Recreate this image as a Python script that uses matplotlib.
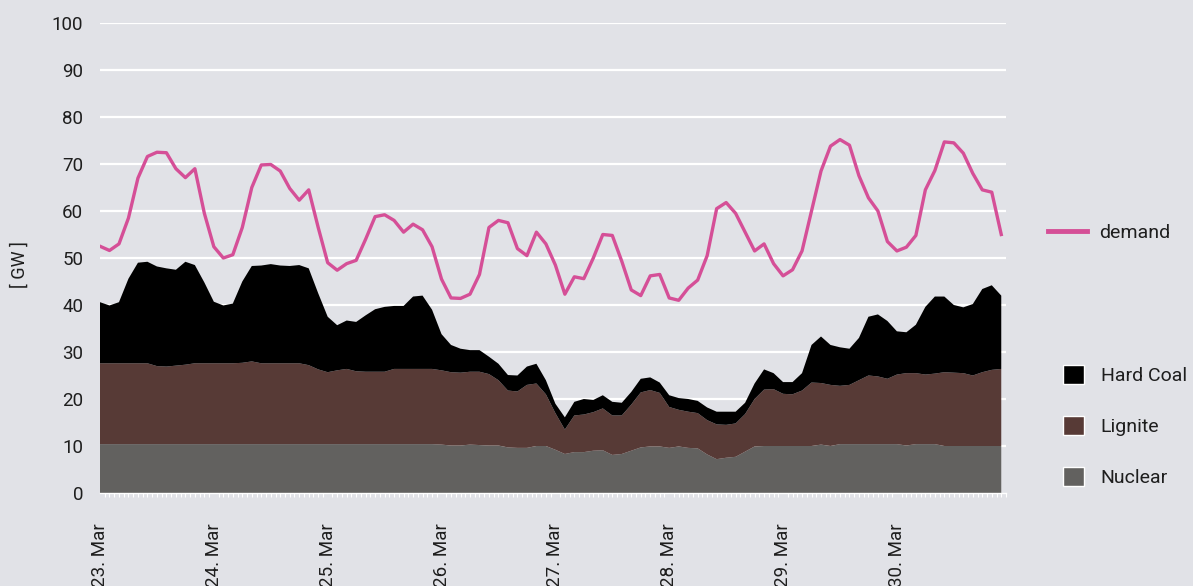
import matplotlib
matplotlib.use("Agg")
import matplotlib.pyplot as plt
from matplotlib.patches import Patch
from matplotlib.lines import Line2D
import numpy as np

# hours since 23 Mar 00:00, 2-hourly readings
hours = np.arange(0, 192, 2)

day_labels = ["23. Mar", "24. Mar", "25. Mar", "26. Mar",
              "27. Mar", "28. Mar", "29. Mar", "30. Mar"]

demand = [52.5, 51.6, 53.0, 58.5, 67.0, 71.6, 72.5, 72.4, 69.0, 67.1, 69.0, 59.5,
          52.4, 50.0, 50.7, 56.5, 65.0, 69.8, 69.9, 68.5, 64.8, 62.3, 64.5, 56.5,
          49.0, 47.4, 48.8, 49.5, 54.0, 58.8, 59.2, 58.0, 55.5, 57.2, 56.0, 52.4,
          45.5, 41.5, 41.4, 42.3, 46.5, 56.5, 58.0, 57.5, 52.0, 50.5, 55.5, 53.0,
          48.5, 42.3, 46.0, 45.6, 50.0, 55.0, 54.8, 49.3, 43.2, 42.0, 46.2, 46.5,
          41.5, 41.0, 43.6, 45.3, 50.5, 60.5, 61.8, 59.5, 55.5, 51.5, 53.0, 48.8,
          46.2, 47.5, 51.5, 60.0, 68.5, 73.8, 75.2, 74.0, 67.5, 62.8, 60.0, 53.5,
          51.5, 52.3, 54.8, 64.5, 68.6, 74.7, 74.5, 72.3, 68.0, 64.5, 64.0, 55.0]

nuclear = ([10.4] * 36 +
           [10.3, 10.1, 10.1, 10.3, 10.2, 10.1, 10.1, 9.7, 9.6, 9.6, 10.0, 10.0,
            9.2, 8.3, 8.7, 8.7, 9.0, 9.1, 8.1, 8.3, 9.0, 9.7, 9.9, 9.9,
            9.6, 9.9, 9.6, 9.5, 8.2, 7.2, 7.5, 7.7, 8.8, 9.9] +
           [10.0] * 6 + [10.3, 10.0] + [10.4] * 7 + [10.1] + [10.4] * 3 + [10.0] * 7)

lignite = ([17.2] * 6 + [16.6, 16.5, 16.7, 16.9] + [17.2] * 5 +
           [17.3, 17.6, 17.2] + [17.2] * 4 +
           [16.8, 15.9, 15.3, 15.7, 16.0, 15.5, 15.4, 15.4, 15.4] + [16.0] * 5 +
           [15.8, 15.6, 15.5, 15.5, 15.6, 15.2, 13.9, 12.1, 12.0, 13.4, 13.3, 11.0,
            7.8, 5.2, 7.8, 8.0, 8.2, 8.9, 8.4, 8.2, 9.8, 11.7, 12.0, 11.4,
            8.7, 7.8, 7.7, 7.5, 7.3, 7.4, 7.0, 7.1, 8.0, 10.1, 12.0, 12.1,
            11.1, 11.0, 11.8, 13.5, 13.1, 13.0, 12.4, 12.6, 13.6, 14.6, 14.4, 13.9,
            14.8, 15.4, 15.1, 14.8, 15.0, 15.7, 15.6, 15.5, 15.0, 15.7, 16.2, 16.4])

hard_coal = [13.0, 12.3, 13.0, 18.0, 21.4, 21.6, 21.2, 20.9, 20.4, 21.9, 20.9, 17.2,
             13.1, 12.3, 12.7, 17.3, 20.3, 20.8, 21.1, 20.8, 20.7, 20.9, 20.6, 16.2,
             11.8, 9.6, 10.3, 10.5, 12.0, 13.3, 13.8, 13.4, 13.4, 15.4, 15.6, 12.6,
             7.7, 5.8, 5.1, 4.6, 4.6, 3.7, 3.5, 3.3, 3.4, 3.9, 4.2, 3.0,
             2.0, 2.6, 2.9, 3.3, 2.6, 2.8, 2.9, 2.7, 2.7, 2.9, 2.7, 2.2,
             2.5, 2.5, 2.7, 2.6, 2.7, 2.7, 2.8, 2.5, 2.4, 3.3, 4.3, 3.4,
             2.5, 2.6, 3.7, 8.0, 9.9, 8.5, 8.2, 7.7, 9.0, 12.5, 13.2, 12.3,
             9.2, 8.7, 10.3, 14.4, 16.4, 16.1, 14.4, 14.0, 15.2, 17.7, 18.0, 15.6]

bg = "#e1e2e7"
c_nuclear = "#62615f"
c_lignite = "#573a36"
c_coal = "#000000"
c_demand = "#d54f97"
txt = "#1e1e1e"

plt.rcParams["font.family"] = ["Roboto", "DejaVu Sans"]

fig = plt.figure(figsize=(11.93, 5.86), dpi=100, facecolor=bg)
ax = fig.add_axes([100 / 1193, 93 / 586, 906 / 1193, 470 / 586], facecolor=bg)

for y in range(10, 101, 10):
    ax.axhline(y, color="white", lw=1.6, zorder=0)

ax.stackplot(hours, nuclear, lignite, hard_coal,
             colors=[c_nuclear, c_lignite, c_coal], lw=0, zorder=2)
ax.plot(hours, demand, color=c_demand, lw=2.4, zorder=3)

ax.set_xlim(0, 191)
ax.set_ylim(0, 100)
ax.set_yticks(range(0, 101, 10))
ax.tick_params(axis="y", length=0, pad=12, labelsize=13.5, labelcolor=txt)
ax.set_xticks(np.arange(0, 192, 24))
ax.set_xticklabels(day_labels, rotation=90, va="top", ha="center")
ax.set_xticks(np.arange(0, 192, 1), minor=True)
ax.tick_params(axis="x", which="major", length=0, pad=22, labelsize=13.5, labelcolor=txt)
ax.tick_params(axis="x", which="minor", length=3, width=0.8, color="white")
for s in ["top", "right", "left"]:
    ax.spines[s].set_visible(False)
ax.spines["bottom"].set_color("white")
ax.spines["bottom"].set_linewidth(1.0)

fig.text(20 / 1193, 1 - 265 / 586, "[ GW ]", rotation=90, ha="center", va="center",
         fontsize=13, color=txt)

leg1 = fig.legend(handles=[Line2D([0], [0], color=c_demand, lw=3.5)], labels=["demand"],
                  loc="center left", bbox_to_anchor=(1040 / 1193, 1 - 233 / 586),
                  borderaxespad=0, frameon=False, fontsize=14, handlelength=2.0,
                  handletextpad=0.65, labelcolor=txt)
leg2 = fig.legend(handles=[Patch(facecolor=c, edgecolor="white", lw=1.0)
                           for c in [c_coal, c_lignite, c_nuclear]],
                  labels=["Hard Coal", "Lignite", "Nuclear"],
                  loc="center left", bbox_to_anchor=(1055 / 1193, 1 - 426 / 586),
                  borderaxespad=0, frameon=False, fontsize=14, handlelength=1.1,
                  handleheight=1.1, handletextpad=0.85, labelspacing=1.6,
                  labelcolor=txt)

fig.savefig("out.png", dpi=100, facecolor=bg)
